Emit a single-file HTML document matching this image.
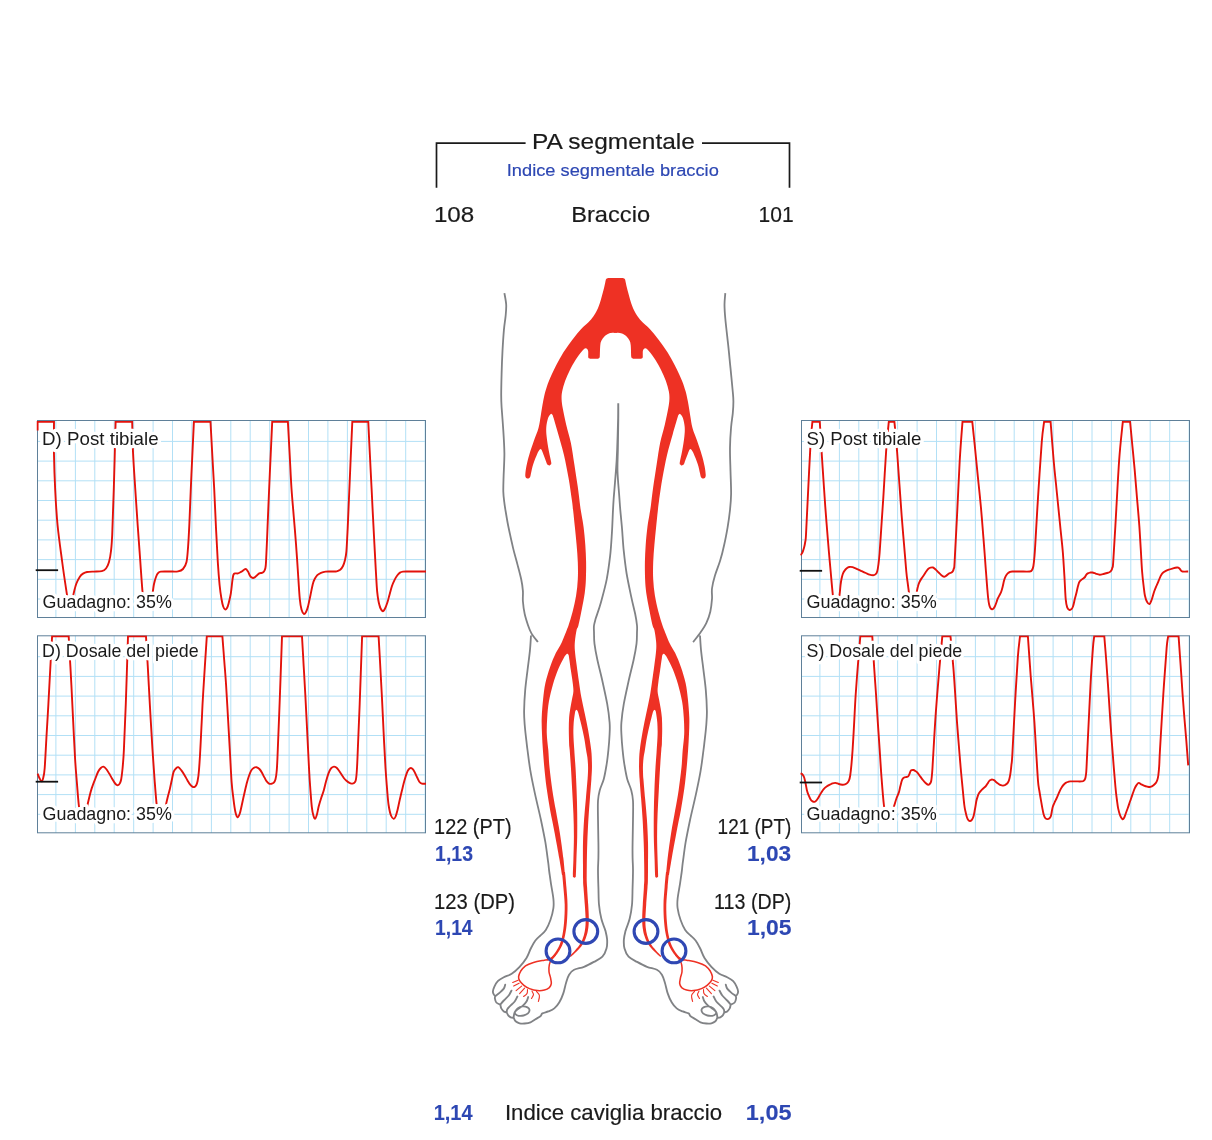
<!DOCTYPE html>
<html lang="it">
<head>
<meta charset="utf-8">
<title>PA segmentale</title>
<style>
html,body{margin:0;padding:0;background:#fff;}
body{width:1212px;height:1140px;overflow:hidden;font-family:"Liberation Sans", sans-serif;}
svg{display:block;}
svg text{font-family:"Liberation Sans", sans-serif;}
.halo{paint-order:stroke fill;stroke:#fff;stroke-width:6.4px;stroke-linejoin:round;}
</style>
</head>
<body>
<svg width="1212" height="1140" viewBox="0 0 1212 1140">
<rect width="1212" height="1140" fill="#fff"/>
<path d="M436.5 187.7V143.1H525.6M702 143.1H789.5V187.7" fill="none" stroke="#1a1a1a" stroke-width="1.7"/>
<text x="532.1" y="149.4" font-size="22.4" fill="#1a1a1a" stroke="#1a1a1a" stroke-width="0.18" textLength="162.8" lengthAdjust="spacingAndGlyphs">PA segmentale</text>
<text x="506.8" y="176" font-size="17.4" fill="#2d47b3" stroke="#2d47b3" stroke-width="0.18" textLength="212" lengthAdjust="spacingAndGlyphs">Indice segmentale braccio</text>
<text x="433.9" y="221.5" font-size="22.4" fill="#1a1a1a" stroke="#1a1a1a" stroke-width="0.18" textLength="40.3" lengthAdjust="spacingAndGlyphs">108</text>
<text x="571.2" y="221.5" font-size="22.4" fill="#1a1a1a" stroke="#1a1a1a" stroke-width="0.18" textLength="78.9" lengthAdjust="spacingAndGlyphs">Braccio</text>
<text x="758.6" y="221.5" font-size="22.4" fill="#1a1a1a" stroke="#1a1a1a" stroke-width="0.18" textLength="35.1" lengthAdjust="spacingAndGlyphs">101</text>
<g>
<clipPath id="cp1"><rect x="36.3" y="420" width="389.7" height="198"/></clipPath>
<rect x="37.5" y="420.5" width="388" height="197" fill="#fff"/>
<path d="M55.9 420.5V617.5M75.4 420.5V617.5M94.8 420.5V617.5M114.2 420.5V617.5M133.7 420.5V617.5M153.1 420.5V617.5M172.5 420.5V617.5M191.9 420.5V617.5M211.4 420.5V617.5M230.8 420.5V617.5M250.2 420.5V617.5M269.7 420.5V617.5M289.1 420.5V617.5M308.5 420.5V617.5M327.9 420.5V617.5M347.4 420.5V617.5M366.8 420.5V617.5M386.2 420.5V617.5M405.7 420.5V617.5M425.1 420.5V617.5M37.5 441.4H425.5M37.5 461.1H425.5M37.5 480.8H425.5M37.5 500.5H425.5M37.5 520.2H425.5M37.5 539.9H425.5M37.5 559.6H425.5M37.5 579.3H425.5M37.5 599H425.5" stroke="#b2e0f6" stroke-width="1" fill="none"/>
<rect x="37.5" y="420.5" width="388" height="197" fill="none" stroke="#5f8099" stroke-width="1"/>
<path d="M37.6 430.5L37.6 430.5L37.6 421.9L37.6 421.9L54 421.9L54 421.9C54 427.4 53.8 443.6 54 455C54.2 466.4 54.6 478.2 55.2 490C55.8 501.8 56.4 513.5 57.6 525.5C58.8 537.5 60.7 550.6 62.2 562C63.7 573.4 65.7 586.3 66.8 593.6C67.9 600.9 68.4 603.4 69 606C69.6 608.6 69.8 609.3 70.2 609C70.6 608.7 71 606.6 71.6 604C72.2 601.4 72.8 596.9 73.6 593.6C74.4 590.3 75.2 586.8 76.2 584C77.2 581.2 78.6 578.7 79.7 577C80.8 575.3 81.8 574.4 83 573.6C84.2 572.8 85.2 572.3 87 572C88.8 571.7 91.5 571.7 94 571.6C96.5 571.5 99.8 571.7 101.8 571.2C103.8 570.7 104.8 570 106 568.5C107.2 567 108.2 564.9 109 562C109.8 559.1 110.5 555.5 111 551C111.5 546.5 111.7 545.4 112.2 535C112.7 524.6 113.2 507.6 113.8 488.7C114.4 469.8 115.3 433 115.6 421.9L115.6 421.9L132.2 421.9L132.2 421.9C132.3 426.9 132.5 441 133 452C133.5 463 134.4 475.8 135.2 488C136 500.2 136.9 513.5 137.7 525.5C138.5 537.5 139.4 548.6 140.2 560C141 571.4 141.9 585.9 142.7 593.6C143.5 601.3 144.2 603.5 145 606C145.8 608.5 146.7 608.8 147.5 608.6C148.3 608.4 149.2 607.5 150 605C150.8 602.5 151.8 597.1 152.5 593.6C153.2 590.1 153.4 586.8 154 584C154.6 581.2 155.3 578.8 156 577C156.7 575.2 157.2 574.1 158 573.2C158.8 572.3 158.8 571.9 160.8 571.6C162.8 571.3 167.1 571.5 170 571.5C172.9 571.5 175.8 571.8 178 571.4C180.2 571 181.6 570.6 183 569C184.4 567.4 185.7 565.5 186.5 562C187.3 558.5 187.5 554.1 188 548C188.5 541.9 188.7 537.7 189.3 525.5C189.9 513.3 190.6 492.3 191.4 475C192.2 457.7 193.5 430.8 193.9 421.9L193.9 421.9L210.5 421.9L210.5 421.9C210.8 427.4 211.7 443.9 212.3 455C212.9 466.1 213.6 476.5 214.2 488.7C214.8 500.9 215.4 515.8 216 528C216.6 540.2 217.2 552.5 217.8 562C218.4 571.5 219 578.8 219.6 585C220.2 591.2 220.9 595.4 221.5 599C222.1 602.6 222.6 604.8 223.2 606.5C223.8 608.2 224.6 609.2 225.2 609.5C225.8 609.8 226.4 609 227 608C227.6 607 228 605.9 228.6 603.5C229.2 601.1 230.2 597.2 230.8 593.6C231.4 590 231.8 585.2 232.2 582C232.6 578.8 233 576 233.5 574.6C234 573.2 234.4 573.6 235.2 573.4C235.9 573.2 236.9 573.7 238 573.4C239.1 573.1 240.2 572.3 241.5 571.6C242.8 570.9 244.4 569 245.5 569C246.6 569 247.3 570.5 248 571.5C248.7 572.5 249.1 574.1 249.6 575C250.1 575.9 250.4 576.5 251 577C251.6 577.5 252.4 577.9 253 578C253.6 578.1 254.1 577.8 254.7 577.4C255.3 577 256 576.2 256.8 575.5C257.6 574.8 258.4 573.9 259.3 573.4C260.2 572.9 261.2 573.1 262 572.8C262.8 572.5 263.4 572.3 264 571.5C264.6 570.7 265.1 569.5 265.4 568C265.7 566.5 265.8 566.1 266 562.3C266.2 558.5 266.5 551.1 266.8 545C267.1 538.9 267.1 537.3 267.6 525.5C268.1 513.7 269 491.3 269.8 474C270.6 456.7 271.8 430.6 272.2 421.9L272.2 421.9L287.9 421.9L287.9 421.9C288.2 427.4 289.1 443.9 289.7 455C290.3 466.1 290.8 478.4 291.5 488.7C292.2 499 293.1 507.8 293.8 517C294.6 526.2 295.3 534.7 296 544C296.7 553.3 297.4 563.8 298 573C298.6 582.2 299.2 592.9 299.8 599C300.4 605.1 300.8 607 301.5 609.5C302.2 612 303.1 613.6 303.9 614C304.6 614.4 305.3 613.2 306 612C306.7 610.8 307.3 609.2 308 606.5C308.7 603.8 309.6 599.2 310.4 595.5C311.2 591.8 312 587.2 312.7 584.4C313.4 581.6 314 580.3 314.8 578.8C315.6 577.3 316.3 576.2 317.3 575.2C318.3 574.2 319.6 573.4 321 572.8C322.4 572.2 323.9 571.8 325.6 571.6C327.3 571.4 329.1 571.5 331 571.5C332.9 571.5 335.2 571.7 336.7 571.4C338.2 571.1 339.1 570.7 340.2 569.8C341.2 568.9 342.2 567.6 343 566C343.8 564.4 344.4 562.5 345 560C345.6 557.5 346 556 346.4 551.3C346.8 546.6 347.1 539.4 347.5 532C347.9 524.6 348.1 518.2 348.6 507C349.1 495.8 349.8 479.2 350.4 465C351 450.8 352 429.1 352.3 421.9L352.3 421.9L368.3 421.9L368.3 421.9C368.6 427.4 369.3 443.9 369.9 455C370.4 466.1 371.1 478.4 371.6 488.7C372.1 499 372.5 507.8 373 517C373.5 526.2 373.9 535.2 374.4 544C374.9 552.8 375.3 562 375.8 570C376.3 578 376.6 586 377.2 591.8C377.8 597.6 378.5 601.8 379.4 605C380.2 608.2 381.4 610.3 382.3 611C383.2 611.7 384 610.4 384.8 609C385.6 607.6 386.5 605.2 387.3 602.8C388.1 600.4 388.8 597.2 389.6 594.5C390.4 591.8 391.1 588.8 391.9 586.3C392.7 583.8 393.7 581.6 394.6 579.8C395.5 577.9 396.5 576.4 397.4 575.2C398.3 574 399.1 573.2 400 572.6C400.9 572 401.3 571.8 403 571.6C404.7 571.4 406 571.5 410 571.5C414 571.5 424.2 571.5 427 571.5" stroke="#e3120b" stroke-width="1.9" fill="none" stroke-linejoin="miter" clip-path="url(#cp1)"/>
<path d="M35.7 570.2H58.1" stroke="#111" stroke-width="1.8"/>
<text x="42.1" y="444.6" font-size="17.7" textLength="116.5" lengthAdjust="spacingAndGlyphs" fill="#1a1a1a" class="halo">D) Post tibiale</text>
<text x="42.6" y="608.4" font-size="17.7" textLength="129.2" lengthAdjust="spacingAndGlyphs" fill="#1a1a1a" class="halo">Guadagno: 35%</text>
</g>
<g>
<clipPath id="cp2"><rect x="36.3" y="635.3" width="389.7" height="198"/></clipPath>
<rect x="37.5" y="635.8" width="388" height="197" fill="#fff"/>
<path d="M55.9 635.8V832.8M75.4 635.8V832.8M94.8 635.8V832.8M114.2 635.8V832.8M133.7 635.8V832.8M153.1 635.8V832.8M172.5 635.8V832.8M191.9 635.8V832.8M211.4 635.8V832.8M230.8 635.8V832.8M250.2 635.8V832.8M269.7 635.8V832.8M289.1 635.8V832.8M308.5 635.8V832.8M327.9 635.8V832.8M347.4 635.8V832.8M366.8 635.8V832.8M386.2 635.8V832.8M405.7 635.8V832.8M425.1 635.8V832.8M37.5 656.7H425.5M37.5 676.4H425.5M37.5 696.1H425.5M37.5 715.8H425.5M37.5 735.5H425.5M37.5 755.2H425.5M37.5 774.9H425.5M37.5 794.6H425.5M37.5 814.3H425.5" stroke="#b2e0f6" stroke-width="1" fill="none"/>
<rect x="37.5" y="635.8" width="388" height="197" fill="none" stroke="#5f8099" stroke-width="1"/>
<path d="M37.6 773.6C37.9 774.3 38.8 776.7 39.4 778C40 779.3 40.8 781.4 41.4 781.4C42 781.4 42.7 780.2 43.2 778C43.8 775.8 44.2 774.7 44.7 768C45.2 761.3 45.8 748.7 46.4 738C47 727.3 47.8 715 48.4 703.7C49 692.4 49.6 681.2 50.2 670C50.8 658.8 51.8 642 52.1 636.4L52.1 636.4L68.7 636.4L68.7 636.4C68.9 640.3 69.5 651.9 70 660C70.5 668.1 70.9 674.9 71.4 685.2C71.9 695.5 72.6 709.7 73.2 722C73.8 734.3 74.5 748.7 75.1 759C75.7 769.3 76.4 776.3 77 784C77.6 791.7 78.2 799.7 78.8 805C79.4 810.3 79.9 813.5 80.6 816C81.3 818.5 82 820.2 82.8 820C83.6 819.8 84.4 817.5 85.2 815C86 812.5 86.8 808.2 87.5 805C88.2 801.8 88.9 798.8 89.6 796C90.3 793.2 90.8 791.1 91.7 788.4C92.6 785.6 93.9 782.3 95 779.5C96.1 776.7 97.1 773.7 98.1 771.8C99.1 769.9 99.9 768.9 100.8 768C101.7 767.1 102.4 766.4 103.3 766.6C104.2 766.8 105.2 767.8 106.2 769C107.2 770.2 108.2 772 109.2 773.6C110.2 775.2 111.1 777 112 778.5C112.9 780 114 781.9 114.7 782.9C115.4 783.9 115.9 784.4 116.4 784.8C117 785.2 117.4 785.4 118 785.2C118.6 785 119.3 784.4 119.8 783.4C120.3 782.4 120.7 781.8 121.2 779.2C121.7 776.6 122.1 772.9 122.6 768C123 763.1 123.4 760.4 123.9 749.7C124.4 739 125.1 722.6 125.8 703.7C126.5 684.8 127.6 647.6 128 636.4L128 636.4L146 636.4L146 636.4C146.2 640.3 146.9 651.9 147.4 660C147.9 668.1 148.3 675.5 148.8 685.2C149.3 694.9 150 707.2 150.6 718C151.2 728.8 151.8 739.4 152.5 749.7C153.2 760 153.9 770.8 154.6 780C155.3 789.2 156 798.8 156.7 805C157.4 811.2 158.1 814.3 158.8 817C159.6 819.7 160.4 821.3 161.2 821C162 820.7 162.8 817.7 163.6 815C164.4 812.3 165.2 808.2 165.9 805C166.6 801.8 167.3 798.8 168 796C168.7 793.2 169.4 791.1 170 788.4C170.6 785.7 171.2 782.8 171.8 780C172.4 777.2 172.9 773.7 173.6 771.8C174.3 769.9 175.2 769.2 176 768.4C176.8 767.6 177.4 766.9 178.3 767.2C179.2 767.5 180.3 769 181.4 770.4C182.5 771.8 183.7 773.8 184.7 775.5C185.7 777.2 186.6 778.9 187.5 780.4C188.4 781.9 189.4 783.7 190.2 784.7C191 785.7 191.6 786.2 192.3 786.6C193 787 193.7 787.2 194.3 787C195 786.8 195.6 786.2 196.2 785.2C196.8 784.2 197.1 783.5 197.6 781C198.1 778.5 198.6 775.2 199 770C199.4 764.8 199.9 757.7 200.3 749.7C200.8 741.7 201.2 731.2 201.7 722C202.2 712.8 202.2 708.8 203.1 694.5C203.9 680.2 206.2 646.1 206.8 636.4L206.8 636.4L222.4 636.4L222.4 636.4C222.7 640.3 223.6 651.9 224.2 660C224.8 668.1 225.5 675.5 226.1 685.2C226.7 694.9 227.4 707.2 228 718C228.6 728.8 229.2 739 229.8 749.7C230.4 760.4 231 773.7 231.6 782C232.2 790.3 232.9 794.4 233.5 799.4C234.1 804.4 234.7 809 235.4 812C236.1 815 236.9 817 237.6 817.3C238.3 817.5 239.1 815.5 239.8 813.5C240.5 811.5 241.1 808.1 241.8 805C242.5 801.9 243.2 798.4 244 795C244.8 791.6 245.6 787.7 246.4 784.7C247.2 781.7 247.8 779.3 248.6 777C249.4 774.7 250.2 772.4 251 770.9C251.8 769.4 252.7 768.6 253.6 768C254.5 767.4 255.5 767 256.5 767.2C257.5 767.4 258.5 768.1 259.4 769C260.3 769.9 261.2 771.3 262 772.7C262.8 774.1 263.6 776 264.4 777.4C265.2 778.8 265.9 780.4 266.7 781.4C267.5 782.4 268.2 783.2 269 783.6C269.8 784 270.5 784 271.3 783.8C272.1 783.6 273.1 783.4 273.8 782.6C274.5 781.8 275 781 275.5 779.2C276 777.4 276.3 775.4 276.6 772C276.9 768.6 276.9 770.4 277.4 759C277.9 747.6 278.8 724.1 279.6 703.7C280.4 683.3 281.6 647.6 282 636.4L282 636.4L302 636.4L302 636.4C302.3 641.2 303.1 655.3 303.6 665C304.2 674.7 304.7 683.3 305.3 694.5C305.9 705.7 306.6 719.8 307.2 732C307.8 744.2 308.5 758.3 309 768C309.5 777.7 309.9 783.5 310.4 790C310.9 796.5 311.3 802.5 311.8 806.8C312.3 811 312.8 813.5 313.4 815.5C313.9 817.5 314.5 818.9 315.1 818.8C315.7 818.7 316.2 817 316.8 815C317.4 813 317.9 809.6 318.6 806.8C319.3 804 320.3 800.8 321.2 798C322.1 795.2 323 793 323.8 790.2C324.6 787.5 325.2 784.3 326 781.5C326.8 778.7 327.6 775.8 328.4 773.6C329.2 771.4 330.1 769.6 331 768.4C331.9 767.2 333 766.7 333.9 766.6C334.8 766.5 335.5 767 336.3 767.6C337.1 768.2 337.7 768.9 338.5 770C339.3 771.1 340.3 772.6 341.2 774C342.1 775.4 343.1 777.1 344 778.3C344.9 779.5 345.9 780.2 346.8 781C347.7 781.8 348.7 782.5 349.5 782.9C350.3 783.3 350.8 783.5 351.4 783.6C352 783.7 352.6 783.6 353.2 783.4C353.8 783.2 354.3 782.9 354.8 782.2C355.3 781.5 355.6 781.6 356 779.2C356.4 776.8 356.7 772.9 357 768C357.3 763.1 357.4 760.4 357.8 749.7C358.2 739 359 722.6 359.7 703.7C360.4 684.8 361.7 647.6 362.1 636.4L362.1 636.4L378.6 636.4L378.6 636.4C378.9 641.2 379.7 655.3 380.2 665C380.7 674.7 381.2 683.3 381.8 694.5C382.4 705.7 383 719.8 383.6 732C384.2 744.2 384.9 758.7 385.5 768C386.1 777.3 386.5 781.8 387 788C387.5 794.2 387.9 800.4 388.6 805C389.3 809.6 390.1 813.2 391 815.5C391.9 817.8 392.9 818.6 393.7 818.8C394.5 819 395 817.9 395.6 816.5C396.2 815.1 396.7 813.2 397.4 810.5C398.1 807.8 398.9 803.4 399.7 800C400.5 796.6 401.2 793.4 402 790.2C402.8 787 403.5 783.8 404.3 781C405.1 778.2 405.9 775.5 406.6 773.6C407.3 771.7 408 770.3 408.7 769.4C409.4 768.5 410.2 768 410.9 768C411.6 768 412.3 768.6 413 769.4C413.7 770.2 414.2 771.4 414.9 772.7C415.6 774.1 416.4 776 417.2 777.5C418 779 418.7 781 419.5 782C420.3 783 420.7 783.3 421.8 783.6C422.9 783.9 425.3 783.8 426 783.8" stroke="#e3120b" stroke-width="1.9" fill="none" stroke-linejoin="miter" clip-path="url(#cp2)"/>
<path d="M35.7 781.7H58.1" stroke="#111" stroke-width="1.8"/>
<text x="42.1" y="656.7" font-size="17.7" textLength="156.6" lengthAdjust="spacingAndGlyphs" fill="#1a1a1a" class="halo">D) Dosale del piede</text>
<text x="42.6" y="819.7" font-size="17.7" textLength="129.2" lengthAdjust="spacingAndGlyphs" fill="#1a1a1a" class="halo">Guadagno: 35%</text>
</g>
<g>
<clipPath id="cp3"><rect x="800.3" y="420" width="389.7" height="198"/></clipPath>
<rect x="801.5" y="420.5" width="388" height="197" fill="#fff"/>
<path d="M819.9 420.5V617.5M839.4 420.5V617.5M858.8 420.5V617.5M878.2 420.5V617.5M897.6 420.5V617.5M917.1 420.5V617.5M936.5 420.5V617.5M955.9 420.5V617.5M975.4 420.5V617.5M994.8 420.5V617.5M1014.2 420.5V617.5M1033.7 420.5V617.5M1053.1 420.5V617.5M1072.5 420.5V617.5M1092 420.5V617.5M1111.4 420.5V617.5M1130.8 420.5V617.5M1150.2 420.5V617.5M1169.7 420.5V617.5M1189.1 420.5V617.5M801.5 441.4H1189.5M801.5 461.1H1189.5M801.5 480.8H1189.5M801.5 500.5H1189.5M801.5 520.2H1189.5M801.5 539.9H1189.5M801.5 559.6H1189.5M801.5 579.3H1189.5M801.5 599H1189.5" stroke="#b2e0f6" stroke-width="1" fill="none"/>
<rect x="801.5" y="420.5" width="388" height="197" fill="none" stroke="#5f8099" stroke-width="1"/>
<path d="M800.4 555.3C800.7 554.8 801.8 553.9 802.4 552.6C803 551.3 803.6 549.4 804.1 547.6C804.6 545.8 804.9 544.1 805.2 542C805.5 539.9 805.6 542.1 806 534.7C806.4 527.4 807 513.2 807.8 497.9C808.6 482.5 809.8 455.3 810.6 442.6C811.4 429.9 812.1 425.3 812.4 421.9L812.4 421.9L819.8 421.9L819.8 421.9C820.1 426.9 821 442.3 821.6 451.8C822.2 461.3 822.8 469.8 823.4 479C824 488.2 824.7 498.5 825.3 507C825.9 515.5 826.5 522.3 827.1 530C827.7 537.7 828.4 545.8 829 553C829.6 560.2 830.2 566.2 830.8 573C831.4 579.8 832.1 588.2 832.7 593.6C833.3 599 833.9 603 834.5 605.5C835.1 608 835.7 608.7 836.3 608.5C836.9 608.3 837.4 607 838 604.5C838.6 602 839.3 596.8 839.7 593.6C840.1 590.4 840.2 587.9 840.5 585.5C840.8 583.1 841.1 580.9 841.5 579C841.9 577.1 842.3 575.4 842.8 574C843.3 572.6 843.9 571.6 844.6 570.6C845.3 569.6 846 568.8 846.8 568.2C847.6 567.6 848.2 567.2 849.2 567C850.2 566.8 851.4 566.9 852.6 567.2C853.8 567.5 855.2 568.2 856.6 568.8C858 569.4 859.5 570.1 861 570.8C862.5 571.5 864.4 572.4 865.8 573C867.2 573.6 868.4 574.2 869.6 574.6C870.8 575 872.2 575.2 873.2 575.2C874.2 575.2 874.7 575 875.4 574.4C876.1 573.8 876.7 573.2 877.2 571.5C877.7 569.8 878.1 567.1 878.5 564C878.9 560.9 879.1 559.3 879.6 553C880.1 546.7 880.8 535.2 881.4 526C882 516.8 882.5 510.3 883.3 497.9C884.1 485.5 885.2 464.5 886.1 451.8C887 439.1 888.3 426.9 888.8 421.9L888.8 421.9L894.4 421.9L894.4 421.9C894.9 426.9 896.3 441.4 897.1 451.8C897.9 462.2 898.6 473.2 899.4 484C900.2 494.8 900.9 506.3 901.7 516.3C902.5 526.3 903.2 534.8 904 544C904.8 553.2 905.7 565 906.3 571.5C906.9 578 907.2 579.3 907.7 583C908.2 586.7 908.6 589.9 909.1 593.6C909.6 597.4 910.4 603 911 605.5C911.6 608 912.2 608.7 912.8 608.5C913.4 608.3 914.2 607 914.8 604.5C915.4 602 916 596.5 916.5 593.6C917 590.7 917.3 588.8 917.8 587C918.2 585.2 918.6 584 919.2 582.6C919.8 581.2 920.6 579.8 921.4 578.6C922.2 577.4 923 576.3 923.8 575.2C924.6 574.1 925.2 572.9 926 571.8C926.8 570.7 927.6 569.5 928.4 568.8C929.2 568.1 929.8 567.8 930.6 567.6C931.4 567.4 932.1 567.2 933 567.5C933.9 567.8 934.9 568.8 935.8 569.6C936.7 570.4 937.7 571.6 938.6 572.5C939.5 573.4 940.5 574.5 941.4 575.2C942.3 575.9 943.3 576.6 944.1 576.7C944.9 576.8 945.6 576.1 946.4 575.6C947.2 575.1 948 574.2 948.7 573.7C949.4 573.2 950.1 573.2 950.8 572.8C951.5 572.4 952.2 572.2 952.7 571.5C953.2 570.8 953.5 570 953.8 568.5C954.1 567 954.1 571 954.6 562.3C955.1 553.6 956.1 533.2 957 516.3C957.9 499.4 958.8 476.7 959.7 461C960.6 445.3 962 428.4 962.5 421.9L962.5 421.9L972.3 421.9L972.3 421.9C972.6 425.1 973.6 434.5 974.3 441C975 447.5 975.6 453.8 976.3 461C977 468.2 977.8 476.3 978.6 484C979.4 491.7 980.2 499.3 980.9 507C981.6 514.7 982.2 522.3 982.8 530C983.4 537.7 984.1 546 984.6 553C985.1 560 985.5 565.8 986 572C986.5 578.2 987 585.6 987.4 590C987.8 594.4 987.9 596 988.2 598.5C988.5 601 988.8 603.1 989.2 604.7C989.6 606.3 989.9 607.2 990.4 608C990.9 608.8 991.5 609.2 992 609.3C992.5 609.4 992.9 609.1 993.4 608.6C993.9 608.1 994.3 607.4 994.8 606.5C995.3 605.6 995.8 604.2 996.2 603C996.7 601.8 997 600.5 997.5 599.2C998 597.9 998.8 596.6 999.4 595.4C1000 594.2 1000.7 593.2 1001.2 591.8C1001.7 590.4 1002.1 588.9 1002.6 587C1003.1 585.1 1003.5 582.5 1004 580.7C1004.5 578.9 1005 577.6 1005.6 576.4C1006.2 575.2 1007 574.1 1007.7 573.4C1008.4 572.7 1009 572.3 1009.8 572C1010.6 571.7 1010.6 571.6 1012.3 571.5C1014 571.4 1017.1 571.5 1020 571.5C1022.9 571.5 1027.8 571.8 1029.8 571.5C1031.8 571.2 1031.4 570.9 1032 570C1032.6 569.1 1033 568.2 1033.4 566C1033.8 563.8 1034.1 560.7 1034.4 557C1034.7 553.3 1034.7 553.9 1035.3 544C1035.9 534.1 1036.9 514.8 1038 497.9C1039.1 481 1040.7 455.3 1041.7 442.6C1042.7 429.9 1043.7 425.3 1044.1 421.9L1044.1 421.9L1050.6 421.9L1050.6 421.9C1051.1 428.4 1052.8 450.6 1053.7 461C1054.6 471.4 1055.2 476.3 1056 484C1056.8 491.7 1057.5 499.3 1058.3 507C1059.1 514.7 1059.8 522.3 1060.6 530C1061.4 537.7 1062.3 545.3 1062.9 553C1063.5 560.7 1063.9 568.3 1064.4 576C1064.9 583.7 1065.2 594 1065.7 599.2C1066.2 604.4 1066.6 605.6 1067.2 607.4C1067.8 609.2 1068.6 609.5 1069.3 609.8C1070 610.1 1070.8 609.8 1071.4 609.2C1072 608.7 1072.4 608.2 1073 606.5C1073.6 604.8 1074.2 601.5 1074.8 599C1075.4 596.5 1076.2 594 1076.7 591.8C1077.2 589.6 1077.5 587.7 1078 586C1078.5 584.3 1078.8 582.8 1079.5 581.7C1080.2 580.6 1081.1 580.2 1082 579.4C1082.9 578.6 1084.3 577.8 1085 577C1085.7 576.2 1085.7 575.4 1086.2 574.8C1086.7 574.2 1087.2 573.8 1087.8 573.4C1088.4 573 1089.2 572.8 1090 572.6C1090.8 572.5 1091.4 572.3 1092.4 572.5C1093.4 572.7 1094.8 573.4 1096 573.8C1097.2 574.2 1098.5 574.7 1099.7 574.7C1101 574.7 1102.3 574.3 1103.5 574C1104.7 573.7 1106.1 573.3 1107.1 573C1108.1 572.7 1108.8 572.6 1109.5 572.2C1110.2 571.8 1110.8 571.4 1111.3 570.6C1111.8 569.8 1112.1 568.9 1112.4 567.5C1112.7 566.1 1112.7 569.3 1113.2 562.3C1113.7 555.3 1114.4 542.4 1115.4 525.5C1116.4 508.6 1117.9 478.3 1119.1 461C1120.3 443.7 1122.2 428.4 1122.8 421.9L1122.8 421.9L1130.1 421.9L1130.1 421.9C1130.5 425.9 1131.6 437.9 1132.4 446C1133.2 454.1 1133.9 461.5 1134.7 470.2C1135.5 478.9 1136.2 488.8 1137 498C1137.8 507.2 1138.7 517.2 1139.3 525.5C1139.9 533.8 1140.2 540.3 1140.7 548C1141.2 555.7 1141.6 565.3 1142.1 571.5C1142.6 577.7 1143 581 1143.5 585C1144 589 1144.3 592.7 1144.9 595.5C1145.5 598.3 1146.2 600.4 1147 601.8C1147.8 603.2 1148.7 604.4 1149.5 604.1C1150.3 603.8 1150.8 602 1151.6 600C1152.4 598 1153.3 594.1 1154.1 591.8C1154.9 589.5 1155.6 587.9 1156.4 586C1157.2 584.1 1158 582.3 1158.7 580.7C1159.4 579.1 1159.8 577.8 1160.4 576.6C1161 575.4 1161.5 574.3 1162.3 573.4C1163.1 572.5 1164.3 571.8 1165.4 571.2C1166.5 570.6 1167.5 570.2 1168.8 569.7C1170.1 569.2 1171.6 568.8 1173 568.4C1174.4 568 1176.2 567.6 1177.1 567.5C1178 567.4 1178.1 567.6 1178.6 567.8C1179 568 1179.4 568.3 1179.8 568.8C1180.2 569.3 1180.5 570.1 1181 570.6C1181.5 571.1 1181.9 571.3 1182.6 571.5C1183.3 571.7 1184.1 571.6 1185 571.6C1185.9 571.6 1187.7 571.5 1188.2 571.5" stroke="#e3120b" stroke-width="1.9" fill="none" stroke-linejoin="miter" clip-path="url(#cp3)"/>
<path d="M799.7 570.8H822.1" stroke="#111" stroke-width="1.8"/>
<text x="806.5" y="444.5" font-size="17.7" textLength="114.8" lengthAdjust="spacingAndGlyphs" fill="#1a1a1a" class="halo">S) Post tibiale</text>
<text x="806.5" y="608.4" font-size="17.7" textLength="130.2" lengthAdjust="spacingAndGlyphs" fill="#1a1a1a" class="halo">Guadagno: 35%</text>
</g>
<g>
<clipPath id="cp4"><rect x="800.3" y="635.3" width="389.7" height="198"/></clipPath>
<rect x="801.5" y="635.8" width="388" height="197" fill="#fff"/>
<path d="M819.9 635.8V832.8M839.4 635.8V832.8M858.8 635.8V832.8M878.2 635.8V832.8M897.6 635.8V832.8M917.1 635.8V832.8M936.5 635.8V832.8M955.9 635.8V832.8M975.4 635.8V832.8M994.8 635.8V832.8M1014.2 635.8V832.8M1033.7 635.8V832.8M1053.1 635.8V832.8M1072.5 635.8V832.8M1092 635.8V832.8M1111.4 635.8V832.8M1130.8 635.8V832.8M1150.2 635.8V832.8M1169.7 635.8V832.8M1189.1 635.8V832.8M801.5 656.7H1189.5M801.5 676.4H1189.5M801.5 696.1H1189.5M801.5 715.8H1189.5M801.5 735.5H1189.5M801.5 755.2H1189.5M801.5 774.9H1189.5M801.5 794.6H1189.5M801.5 814.3H1189.5" stroke="#b2e0f6" stroke-width="1" fill="none"/>
<rect x="801.5" y="635.8" width="388" height="197" fill="none" stroke="#5f8099" stroke-width="1"/>
<path d="M800.4 773.3C800.7 773.5 801.8 773.7 802.4 774.4C803 775.1 803.6 775.9 804.1 777.3C804.6 778.7 805 780.9 805.5 783C806 785.1 806.4 788.1 806.9 790.2C807.4 792.3 808.1 793.9 808.7 795.4C809.3 796.9 810 798.4 810.6 799.4C811.2 800.4 811.9 801 812.6 801.4C813.3 801.8 813.9 802 814.6 801.8C815.3 801.6 816.1 800.9 816.8 800C817.5 799.1 818.2 797.9 818.9 796.7C819.6 795.5 820.4 794 821.2 792.8C822 791.6 822.6 790.3 823.5 789.3C824.4 788.3 825.5 787.4 826.6 786.6C827.7 785.8 828.9 785.2 829.9 784.7C830.9 784.2 831.7 783.7 832.6 783.4C833.5 783.1 834.4 782.8 835.4 782.9C836.4 783 837.6 783.7 838.8 784C839.9 784.3 841.3 784.6 842.3 784.7C843.3 784.8 844.1 784.7 845 784.4C845.9 784.1 846.7 783.6 847.4 782.9C848.1 782.2 848.5 781.6 849 780.4C849.5 779.2 849.8 778.1 850.2 775.5C850.6 772.9 851 769.3 851.4 765C851.8 760.7 852.1 756.9 852.6 749.7C853.1 742.5 853.7 731.2 854.2 722C854.7 712.8 855 705.2 855.7 694.5C856.4 683.8 857.7 667.3 858.5 657.6C859.3 647.9 860 639.9 860.3 636.4L860.3 636.4L872.3 636.4L872.3 636.4C872.6 641.5 873.5 657.2 874.1 666.8C874.7 676.4 875.4 684.8 876 694C876.6 703.2 877.2 712.8 877.8 722.1C878.4 731.4 879.1 740.8 879.7 750C880.3 759.2 880.8 768.1 881.5 777.3C882.2 786.5 883.1 798.5 883.9 805C884.6 811.5 885.2 813.6 886 816C886.8 818.4 887.7 819.6 888.6 819.5C889.5 819.4 890.4 817.9 891.4 815.5C892.4 813.1 893.5 807.9 894.4 805C895.3 802.1 895.8 800.2 896.6 798C897.4 795.8 898.4 794 899 792C899.6 790 899.9 787.8 900.4 786C900.9 784.2 901.3 782.3 901.7 781C902.1 779.7 902.5 779 903 778.4C903.5 777.8 903.9 777.5 904.5 777.3C905.1 777.1 905.8 777.1 906.4 777C907 776.9 907.7 776.9 908.2 776.4C908.7 775.9 909 775 909.4 774.2C909.8 773.4 910 772.1 910.4 771.4C910.8 770.7 911.2 770.4 911.7 770.2C912.2 770 912.7 769.9 913.3 770C913.9 770.1 914.6 770.5 915.3 771C916 771.5 916.6 771.8 917.4 772.7C918.2 773.6 919.3 775.2 920.2 776.4C921.1 777.6 922 778.9 922.9 780C923.8 781.1 924.7 782.2 925.6 783C926.5 783.8 927.4 784.6 928.1 784.7C928.8 784.8 929.3 784.4 929.8 783.8C930.3 783.2 930.8 783 931.2 781C931.6 779 931.9 775.7 932.2 772C932.5 768.3 932.4 768.9 933 759C933.6 749.1 934.7 728.3 935.8 712.9C936.9 697.5 938.4 679.5 939.5 666.8C940.6 654 941.8 641.5 942.3 636.4L942.3 636.4L950.5 636.4L950.5 636.4C951 641.5 952.5 657.2 953.3 666.8C954.1 676.4 954.6 684.8 955.2 694C955.8 703.2 956.4 713.6 957 722.1C957.6 730.6 958.2 737.4 958.8 745C959.4 752.6 960.1 761 960.7 768C961.3 775 961.9 780.8 962.5 787C963.1 793.2 963.8 800.8 964.3 805C964.8 809.2 965.1 809.9 965.6 812C966.1 814.1 966.6 816.4 967.1 817.8C967.6 819.2 968.1 819.9 968.6 820.4C969.1 820.9 969.6 821.1 970.2 821C970.8 820.9 971.4 820.4 972 819.6C972.6 818.8 973.1 817.8 973.6 816C974.1 814.2 974.5 811.5 975 809C975.5 806.5 975.9 803.4 976.3 801.3C976.7 799.2 977.1 798 977.6 796.6C978.1 795.2 978.3 794.2 979.1 793C979.9 791.8 981.1 790.5 982.2 789.4C983.3 788.3 984.6 787.4 985.5 786.5C986.4 785.6 986.8 784.7 987.4 783.8C988 782.9 988.6 781.7 989.2 781C989.8 780.3 990.2 780 990.8 779.8C991.3 779.6 991.9 779.5 992.5 779.6C993.1 779.7 993.8 780 994.4 780.4C995 780.8 995.3 781.4 996 782C996.7 782.6 997.6 783.3 998.4 783.8C999.2 784.3 1000 784.9 1000.8 785.2C1001.6 785.5 1002.2 785.7 1003 785.6C1003.8 785.5 1004.6 785.2 1005.4 784.8C1006.2 784.3 1007.1 783.8 1007.7 782.9C1008.3 782 1008.8 781 1009.2 779.5C1009.7 778 1010 776 1010.4 773.6C1010.8 771.2 1011.1 768.1 1011.4 765C1011.7 761.9 1011.7 765.4 1012.3 755.2C1012.9 745 1014.1 720 1015 703.7C1015.9 687.4 1017 668.8 1017.8 657.6C1018.6 646.4 1019.6 639.9 1020 636.4L1020 636.4L1027.9 636.4L1027.9 636.4C1028.4 643 1029.9 665.6 1030.7 676C1031.5 686.4 1032 691.3 1032.6 699C1033.2 706.7 1033.8 713.3 1034.4 722.1C1035 730.9 1035.6 742.2 1036.2 752C1036.8 761.8 1037.5 774.5 1038 781C1038.5 787.5 1038.9 787.9 1039.4 791C1039.9 794.1 1040.3 796.7 1040.8 799.4C1041.3 802.1 1041.7 804.9 1042.2 807.4C1042.7 809.9 1043.1 812.4 1043.6 814.2C1044.1 816 1044.6 817.2 1045.2 818C1045.8 818.8 1046.5 819 1047.2 819.1C1047.9 819.2 1048.6 819.1 1049.2 818.6C1049.8 818.1 1050.5 817.2 1050.9 816C1051.3 814.8 1051.5 813 1051.8 811.5C1052.1 810 1052.3 808.3 1052.8 806.8C1053.3 805.3 1054 803.9 1054.6 802.5C1055.2 801.1 1055.8 800 1056.5 798.5C1057.2 797 1058 794.9 1058.8 793.2C1059.6 791.5 1060.3 789.8 1061.1 788.4C1061.9 787 1062.6 785.9 1063.4 785C1064.2 784.1 1064.9 783.4 1065.7 782.9C1066.5 782.4 1067.2 782 1068 781.8C1068.8 781.5 1069 781.5 1070.3 781.4C1071.6 781.3 1074.2 781.4 1076 781.4C1077.8 781.4 1080.1 781.5 1081.3 781.4C1082.5 781.3 1082.8 781.4 1083.4 781C1084 780.6 1084.6 780.2 1085 779.2C1085.4 778.2 1085.7 776.9 1085.9 775C1086.2 773.1 1086.2 773.8 1086.5 768C1086.8 762.2 1087.1 754.3 1087.8 740.5C1088.5 726.7 1089.7 700.6 1090.5 685.2C1091.3 669.9 1092.3 656.5 1092.9 648.4C1093.5 640.3 1094 638.4 1094.2 636.4L1094.2 636.4L1104.3 636.4L1104.3 636.4C1104.6 640.3 1105.6 651.9 1106.2 660C1106.8 668.1 1107.4 676.4 1108 685.2C1108.6 694 1109.2 703.8 1109.8 713C1110.4 722.2 1111.1 731.8 1111.7 740.5C1112.3 749.2 1113 757.3 1113.6 765C1114.2 772.7 1114.9 780.8 1115.4 786.5C1115.9 792.2 1116.3 795.3 1116.8 799C1117.3 802.7 1117.6 805.8 1118.2 808.6C1118.8 811.4 1119.5 813.9 1120.2 815.6C1120.9 817.4 1121.8 818.7 1122.4 819.1C1123 819.5 1123.5 818.8 1124 818C1124.5 817.2 1124.9 815.9 1125.5 814.2C1126.1 812.5 1127 810.1 1127.8 808C1128.6 805.9 1129.3 803.5 1130.1 801.3C1130.9 799.1 1131.6 796.8 1132.4 794.6C1133.2 792.5 1134 790 1134.7 788.4C1135.4 786.8 1136 785.7 1136.7 784.8C1137.4 783.9 1138 783 1138.8 782.9C1139.6 782.8 1140.4 783.9 1141.3 784.4C1142.2 784.9 1142.9 785.2 1143.9 785.6C1144.9 786 1146.1 786.4 1147.2 786.6C1148.3 786.8 1149.4 787.1 1150.4 786.9C1151.4 786.7 1152.3 786.3 1153.2 785.6C1154.1 784.9 1155.2 783.8 1155.9 782.9C1156.6 782 1156.9 781.2 1157.3 780C1157.7 778.8 1158 777.8 1158.3 775.5C1158.6 773.2 1158.9 770.3 1159.2 766C1159.5 761.7 1159.3 761.6 1160 749.7C1160.7 737.8 1162.2 711.4 1163.3 694.5C1164.4 677.6 1165.8 658.1 1166.6 648.4C1167.4 638.7 1167.9 638.4 1168.2 636.4L1168.2 636.4L1178.6 636.4L1178.6 636.4C1178.9 641.2 1179.9 655.3 1180.6 665C1181.3 674.7 1182 685.7 1182.6 694.5C1183.2 703.3 1183.8 710.3 1184.4 718C1185 725.7 1185.7 732.6 1186.3 740.5C1186.9 748.4 1187.9 761.2 1188.2 765.4" stroke="#e3120b" stroke-width="1.9" fill="none" stroke-linejoin="miter" clip-path="url(#cp4)"/>
<path d="M799.7 782.5H822.1" stroke="#111" stroke-width="1.8"/>
<text x="806.5" y="656.7" font-size="17.7" textLength="155.8" lengthAdjust="spacingAndGlyphs" fill="#1a1a1a" class="halo">S) Dosale del piede</text>
<text x="806.5" y="819.7" font-size="17.7" textLength="130.2" lengthAdjust="spacingAndGlyphs" fill="#1a1a1a" class="halo">Guadagno: 35%</text>
</g>
<g fill="none" stroke="#808285" stroke-linecap="butt" stroke-linejoin="round">
<path stroke-width="1.8" d="M504.4 293.1C504.7 295 506 300.9 506.2 304.7C506.4 308.5 506 312 505.6 316.2C505.2 320.4 504.4 324.3 503.9 330.1C503.4 335.9 502.9 343.6 502.5 350.9C502.1 358.2 501.8 366.6 501.6 374C501.4 381.4 501.2 389.4 501.2 395C501.2 400.6 501.2 401.4 501.6 407.3C502 413.2 502.8 422.7 503.3 430.4C503.8 438.1 504.3 445.8 504.4 453.5C504.4 461.2 503.8 470.2 503.6 476.6C503.4 483 503.2 487.2 503.3 491.6C503.4 496 504 500 504.4 503.2C504.8 506.4 504.9 507 505.6 511C506.3 515 507.2 521.1 508.5 527.3C509.8 533.5 511.6 541.8 513.1 548.1C514.6 554.5 516.4 560.2 517.7 565.4C519.1 570.6 520.3 575 521.2 579.3C522.1 583.5 522.6 587.2 522.9 590.9C523.2 594.6 522.6 597.4 522.9 601.3C523.2 605.1 523.8 610 524.7 614C525.6 618 527 622.2 528.1 625.5C529.2 628.8 530 630.8 531.6 633.6C533.2 636.4 536.9 640.7 537.9 642.1M531 635.5C530.8 638 530.5 645 529.9 650.8C529.3 656.6 528.3 663.8 527.5 670.4C526.7 677 525.8 683.4 525.2 690.1C524.6 696.9 524.2 705.1 524.1 710.9C524 716.7 524.3 719.7 524.7 724.7C525.1 729.7 525.9 736.7 526.4 740.9C526.9 745.1 526.8 745 527.5 750C528.2 755 529.1 763.5 530.4 770.8C531.6 778.1 533.3 785.8 535 793.9C536.7 802 539.1 811.2 540.8 819.3C542.5 827.4 544.1 835.1 545.4 842.4C546.6 849.7 547.6 858.3 548.3 863.2C548.9 868.1 548.8 868.5 549.3 872C549.8 875.5 550.3 879.4 551 883.9C551.7 888.4 553 894.9 553.4 898.9C553.8 902.9 553.9 904.6 553.4 908.1C552.9 911.6 551.8 916 550.5 919.7C549.2 923.4 547.5 927.4 545.8 930.1C544.1 932.8 541 934.8 540.1 935.8M605.3 930.1C604.6 928.2 602.3 922.7 601.3 918.5C600.2 914.3 599.5 909.9 599 904.7C598.5 899.5 598.6 893.1 598.4 887.3C598.2 881.5 598 874.9 598 870C598 865.1 598.3 862.6 598.4 858C598.5 853.4 598.5 848.9 598.4 842.4C598.3 835.9 598.1 826.2 598 819.3C597.9 812.4 597.7 805.6 598 800.8C598.3 796 598.7 794 599.7 790.4C600.7 786.8 602.6 783.3 603.8 778.9C605 774.5 605.9 768.7 606.7 763.9C607.5 759.1 607.9 755 608.4 750C608.9 745 609.4 738.6 609.6 734C609.8 729.4 610 727.4 609.6 722.4C609.2 717.4 608.4 710.6 607.2 703.9C606 697.2 604.2 689.3 602.6 682C601 674.7 598.8 666.4 597.4 660C596 653.6 595.1 648.6 594.5 643.9C593.9 639.2 594.1 635.1 594 632C593.9 628.9 593.7 627.7 594 625.5C594.3 623.3 594.6 622.5 595.7 618.6C596.9 614.8 599.1 609 600.9 602.4C602.7 595.8 605.2 587 606.7 579.3C608.2 571.6 609.2 563.9 610.1 556.2C611 548.5 611.4 540.8 611.9 533.1C612.4 525.4 612.7 515.6 613 510C613.3 504.4 613.3 504.3 613.6 499.7C613.9 495.1 614.5 489.1 615 482.4C615.5 475.7 616.3 467 616.7 459.3C617.1 451.6 617.4 443.1 617.6 436.2C617.8 429.3 618 423.5 618.1 418C618.2 412.5 618.2 405.8 618.2 403.3M725.3 293.1C725.2 295 724.5 300.5 724.5 304.7C724.5 308.9 724.7 311.8 725.3 318.5C725.9 325.2 727.3 336.8 728.2 345.1C729.1 353.4 729.7 360.4 730.5 368.2C731.3 376 732.3 386.4 732.8 392C733.3 397.6 733.4 398.1 733.4 401.6C733.4 405.1 733.2 408.9 732.8 413.1C732.4 417.3 731.6 421.2 731.1 427C730.6 432.8 730.1 440.5 730 447.8C729.9 455.1 730.3 463.2 730.5 470.9C730.7 478.6 731.2 487.5 731.1 494C731 500.5 730.6 504.4 730 510C729.4 515.5 728.6 521.5 727.6 527.3C726.6 533.1 725.5 539.1 724.2 544.7C723 550.3 721.7 555.6 720.1 560.8C718.5 566 716.2 571.2 714.9 575.8C713.5 580.4 712.5 584.6 712 588.5C711.5 592.4 712.3 595 712 598.9C711.7 602.8 711.2 607.7 710.3 611.7C709.3 615.8 707.9 619.8 706.3 623.2C704.7 626.7 702.7 629.2 700.5 632.4C698.3 635.5 694.3 640.5 693.1 642.1M700 635.5C700.2 638 700.5 645 701.1 650.8C701.7 656.6 702.7 663.8 703.5 670.4C704.3 677 705.2 683.4 705.8 690.1C706.4 696.9 706.8 705.1 706.9 710.9C707 716.7 706.7 719.7 706.3 724.7C705.9 729.7 705.1 736.7 704.6 740.9C704.1 745.1 704.2 745 703.5 750C702.8 755 701.9 763.5 700.6 770.8C699.4 778.1 697.7 785.8 696 793.9C694.3 802 691.9 811.2 690.2 819.3C688.5 827.4 686.9 835.1 685.6 842.4C684.4 849.7 683.4 858.3 682.7 863.2C682.1 868.1 682.2 868.5 681.7 872C681.2 875.5 680.7 879.4 680 883.9C679.3 888.4 678 894.9 677.6 898.9C677.2 902.9 677.1 904.6 677.6 908.1C678.1 911.6 679.2 916 680.5 919.7C681.8 923.4 683.5 927.4 685.2 930.1C686.9 932.8 690 934.8 690.9 935.8M625.7 930.1C626.4 928.2 628.7 922.7 629.7 918.5C630.8 914.3 631.5 909.9 632 904.7C632.5 899.5 632.4 893.1 632.6 887.3C632.8 881.5 633 874.9 633 870C633 865.1 632.7 862.6 632.6 858C632.5 853.4 632.5 848.9 632.6 842.4C632.7 835.9 632.9 826.2 633 819.3C633.1 812.4 633.3 805.6 633 800.8C632.7 796 632.3 794 631.3 790.4C630.3 786.8 628.4 783.3 627.2 778.9C626 774.5 625.1 768.7 624.3 763.9C623.5 759.1 623.1 755 622.6 750C622.1 745 621.6 738.6 621.4 734C621.2 729.4 621 727.4 621.4 722.4C621.8 717.4 622.6 710.6 623.8 703.9C625 697.2 626.8 689.3 628.4 682C630 674.7 632.2 666.4 633.6 660C635 653.6 635.9 648.6 636.5 643.9C637.1 639.2 636.9 635.1 637 632C637.1 628.9 637.3 628.5 637 625.5C636.7 622.5 636.2 618.8 635.2 614C634.2 609.2 632.6 603.4 631.2 596.6C629.8 589.9 627.9 581.2 626.6 573.5C625.4 565.8 624.5 558.1 623.7 550.4C622.9 542.6 622.5 533.7 621.9 527C621.3 520.3 620.8 515.5 620.3 510C619.8 504.5 619.6 500.5 619.1 494C618.6 487.5 617.7 478.6 617.5 470.9C617.3 463.2 617.8 456.3 617.9 447.8C618 439.3 618.2 427.4 618.3 420C618.4 412.6 618.3 406.1 618.3 403.3"/>
<path stroke-width="1.85" stroke-linecap="round" d="M540.1 935.8C539.3 936.6 537 938.4 535.4 940.5C533.8 942.6 532.3 945.6 530.8 948.5C529.3 951.4 528.4 954.9 526.5 957.9C524.6 960.9 522.1 964.1 519.6 966.8C517.1 969.4 514.3 972.1 511.7 973.8C509.1 975.5 506.1 976 503.8 977.2C501.5 978.4 499.4 979.6 497.8 981.2C496.2 982.8 495.2 984.9 494.4 986.6C493.6 988.3 493 990.3 492.9 991.6C492.8 992.9 493.5 993.9 493.9 994.6C494.3 995.3 495.1 995.8 495.3 996L495.3 996C495.2 996.4 494.7 997.4 494.9 998.5C495.1 999.6 495.4 1001.5 496.3 1002.5C497.2 1003.5 499.6 1004.2 500.3 1004.5L500.3 1004.5C500.5 1005.1 500.7 1007.2 501.3 1008.4C501.9 1009.5 502.9 1010.7 503.8 1011.4C504.7 1012.1 506.2 1012.2 506.7 1012.4L506.7 1012.4C506.9 1012.9 507.5 1014.5 508.2 1015.3C508.9 1016.1 509.8 1016.9 510.7 1017.3C511.6 1017.7 513.2 1017.7 513.7 1017.8L513.7 1017.8C514 1018.4 514.6 1020.4 515.6 1021.3C516.6 1022.2 518.1 1022.9 519.6 1023.3C521.1 1023.7 522.8 1023.7 524.6 1023.5C526.4 1023.3 528.7 1023 530.5 1022.3C532.3 1021.6 533.8 1020.3 535.4 1019.3C537 1018.3 539.2 1017.3 540.4 1016.3C541.6 1015.3 541.1 1014.2 542.4 1013.4C543.7 1012.6 546.3 1012.2 548.3 1011.4C550.3 1010.6 552.5 1009.9 554.3 1008.4C556.1 1006.9 557.7 1005 559.2 1002.5C560.7 1000 562.1 996.9 563.2 993.6C564.4 990.3 565.1 985.8 566.1 982.7C567.1 979.6 567.8 976.9 569.1 974.8C570.4 972.6 571.6 971.1 574.1 969.8C576.6 968.5 580.7 968.1 584 966.8C587.3 965.5 590.8 963.6 593.9 961.9C597 960.2 600.3 958.8 602.4 956.6C604.5 954.4 605.7 951.4 606.5 948.5C607.3 945.6 607.3 942.4 607.1 939.3C606.9 936.2 605.6 931.6 605.3 930.1M505.2 984.7C505 985.4 504.7 987.3 503.8 988.6C502.9 989.9 501.2 991.4 499.8 992.6C498.4 993.8 496.1 995.4 495.3 996M511.5 990.6C511 991.4 510 993.9 508.7 995.5C507.4 997.1 505.2 999 503.8 1000.5C502.4 1002 500.9 1003.8 500.3 1004.5M517.4 996.5C517 997.3 516 999.9 514.7 1001.5C513.4 1003.1 510.9 1005.1 509.7 1006.4C508.4 1007.7 507.7 1008.4 507.2 1009.4C506.7 1010.4 506.8 1011.9 506.7 1012.4M528.2 997C527.9 997.8 527.4 1000 526.5 1001.5C525.6 1003 524.1 1004.6 522.6 1005.9C521.1 1007.2 518.9 1008.3 517.6 1009.4C516.3 1010.5 515.3 1011.4 514.7 1012.4C514.1 1013.4 514.1 1014.4 513.9 1015.3C513.7 1016.2 513.7 1017.4 513.7 1017.8M514.7 1012.4C515.2 1011.7 516.3 1009.4 517.6 1008.4C518.9 1007.4 521 1006.6 522.6 1006.4C524.2 1006.2 526.4 1006.8 527.5 1007.4C528.6 1008 529.4 1008.9 529.5 1009.9C529.6 1010.9 529 1012.5 528 1013.4C527 1014.3 525.2 1015.1 523.6 1015.5C522 1015.9 520 1016 518.6 1015.8C517.2 1015.6 516 1014.8 515.4 1014.2C514.8 1013.6 514.8 1012.7 514.7 1012.4M690.9 935.8C691.7 936.6 694 938.4 695.6 940.5C697.2 942.6 698.7 945.6 700.2 948.5C701.7 951.4 702.6 954.9 704.5 957.9C706.4 960.9 708.9 964.1 711.4 966.8C713.9 969.4 716.7 972.1 719.3 973.8C721.9 975.5 724.9 976 727.2 977.2C729.5 978.4 731.6 979.6 733.2 981.2C734.8 982.8 735.8 984.9 736.6 986.6C737.4 988.3 738 990.3 738.1 991.6C738.2 992.9 737.5 993.9 737.1 994.6C736.7 995.3 735.9 995.8 735.7 996L735.7 996C735.8 996.4 736.3 997.4 736.1 998.5C735.9 999.6 735.6 1001.5 734.7 1002.5C733.8 1003.5 731.4 1004.2 730.7 1004.5L730.7 1004.5C730.5 1005.1 730.3 1007.2 729.7 1008.4C729.1 1009.5 728.1 1010.7 727.2 1011.4C726.3 1012.1 724.8 1012.2 724.3 1012.4L724.3 1012.4C724 1012.9 723.5 1014.5 722.8 1015.3C722.1 1016.1 721.2 1016.9 720.3 1017.3C719.4 1017.7 717.8 1017.7 717.3 1017.8L717.3 1017.8C717 1018.4 716.4 1020.4 715.4 1021.3C714.4 1022.2 712.9 1022.9 711.4 1023.3C709.9 1023.7 708.2 1023.7 706.4 1023.5C704.6 1023.3 702.3 1023 700.5 1022.3C698.7 1021.6 697.2 1020.3 695.6 1019.3C694 1018.3 691.8 1017.3 690.6 1016.3C689.4 1015.3 689.9 1014.2 688.6 1013.4C687.3 1012.6 684.7 1012.2 682.7 1011.4C680.7 1010.6 678.5 1009.9 676.7 1008.4C674.9 1006.9 673.3 1005 671.8 1002.5C670.3 1000 668.9 996.9 667.8 993.6C666.6 990.3 665.9 985.8 664.9 982.7C663.9 979.6 663.2 976.9 661.9 974.8C660.6 972.6 659.4 971.1 656.9 969.8C654.4 968.5 650.3 968.1 647 966.8C643.7 965.5 640.2 963.6 637.1 961.9C634 960.2 630.7 958.8 628.6 956.6C626.5 954.4 625.3 951.4 624.5 948.5C623.7 945.6 623.7 942.4 623.9 939.3C624.1 936.2 625.4 931.6 625.7 930.1M725.8 984.7C726 985.4 726.3 987.3 727.2 988.6C728.1 989.9 729.8 991.4 731.2 992.6C732.6 993.8 735 995.4 735.7 996M719.5 990.6C720 991.4 721 993.9 722.3 995.5C723.6 997.1 725.8 999 727.2 1000.5C728.6 1002 730.1 1003.8 730.7 1004.5M713.6 996.5C714 997.3 715 999.9 716.3 1001.5C717.6 1003.1 720 1005.1 721.3 1006.4C722.5 1007.7 723.3 1008.4 723.8 1009.4C724.3 1010.4 724.2 1011.9 724.3 1012.4M702.8 997C703.1 997.8 703.6 1000 704.5 1001.5C705.4 1003 706.9 1004.6 708.4 1005.9C709.9 1007.2 712.1 1008.3 713.4 1009.4C714.7 1010.5 715.7 1011.4 716.3 1012.4C716.9 1013.4 716.9 1014.4 717.1 1015.3C717.3 1016.2 717.3 1017.4 717.3 1017.8M716.3 1012.4C715.8 1011.7 714.7 1009.4 713.4 1008.4C712.1 1007.4 710 1006.6 708.4 1006.4C706.8 1006.2 704.6 1006.8 703.5 1007.4C702.4 1008 701.6 1008.9 701.5 1009.9C701.4 1010.9 702 1012.5 703 1013.4C704 1014.3 705.8 1015.1 707.4 1015.5C709 1015.9 711 1016 712.4 1015.8C713.8 1015.6 715 1014.8 715.6 1014.2C716.2 1013.6 716.2 1012.7 716.3 1012.4"/>
</g>
<g><path d="M605.2 282.7C605 283.5 604.6 285.6 604.2 287.3C603.8 289 603.3 291 602.7 293.1C602.1 295.2 601.4 297.9 600.8 300C600.2 302.1 599.6 304 598.9 305.8C598.2 307.6 597.5 309.3 596.6 311C595.7 312.7 594.9 314.3 593.5 316.2C592.1 318.1 590.1 320.7 588.2 322.6C586.4 324.5 584.5 325.6 582.4 327.8C580.3 330 577.8 332.9 575.5 335.8C573.2 338.7 570.8 341.8 568.5 345.1C566.2 348.4 563.9 351.6 561.6 355.5C559.3 359.4 556.8 364 554.7 368.2C552.6 372.4 550.5 377 548.9 380.9C547.3 384.8 546.4 387.9 545.4 391.3C544.4 394.8 543.9 397.6 543.1 401.6C542.3 405.6 541.6 411 540.8 415.4C540 419.8 539.6 423.9 538.5 428.1C537.4 432.3 535.4 436.4 533.9 440.8C532.4 445.2 530.5 450.5 529.3 454.7C528 458.9 527.1 462.9 526.4 466.2C525.7 469.5 525.4 472.6 525.3 474.5C525.2 476.4 525.4 476.7 525.8 477.4C526.2 478.1 527.2 478.5 527.9 478.5C528.6 478.5 529.5 478.1 530 477.2C530.5 476.3 530.5 475.4 531 473.2C531.5 471 532.2 467.2 533.3 463.9C534.4 460.6 536.4 455.8 537.4 453.5C538.4 451.2 538.9 450.7 539.4 450C539.9 449.3 540.4 449.2 540.6 449.1L540.6 449.1C540.8 449.3 541.4 449.5 541.8 450.2C542.2 450.9 542.3 451.5 543.1 453.5C543.9 455.5 545.7 460.5 546.4 462.4C547.1 464.2 546.9 464.1 547.4 464.6C547.9 465.1 548.5 465.4 549.1 465.4C549.7 465.4 550.4 464.9 550.8 464.4C551.1 463.9 551.5 464.4 551.2 462.2C550.9 460 549.7 455.5 548.9 451.2C548.1 446.9 547 440.2 546.6 436.2C546.2 432.2 546.1 429.9 546.3 427C546.5 424.1 547.2 420.9 547.8 418.9C548.3 416.9 549 416.1 549.6 415.2C550.2 414.3 550.9 413.9 551.2 413.7L551.2 413.7C551.4 413.9 552 414.1 552.4 414.8C552.8 415.5 552.5 414.5 553.5 417.7C554.5 420.9 556.5 427.7 558.2 433.9C559.9 440.1 562.2 447.4 563.9 454.7C565.6 462 567.1 470.1 568.5 477.8C569.9 485.5 571.2 495.4 572 500.9C572.8 506.4 572.7 506.6 573.2 511C573.7 515.4 574.3 521.7 574.9 527.3C575.5 532.9 576.1 538.9 576.6 544.7C577.1 550.5 577.6 556.2 577.8 562C578 567.8 578.1 573.7 577.8 579.3C577.5 584.9 577 590.1 576.1 595.5C575.2 600.9 573.9 606.7 572.6 611.7C571.3 616.7 569.5 622.5 568.5 625.5C567.5 628.5 567.9 627.1 566.8 630C565.6 632.9 563.4 638.9 561.6 642.7C559.8 646.6 557.7 649.1 555.8 653.1C553.9 657.1 551.8 662 550.1 667C548.4 672 546.6 677.7 545.4 683.1C544.2 688.5 543.7 693.5 543.1 699.3C542.5 705.1 541.9 712 541.7 717.8C541.5 723.6 541.8 728.6 542 734C542.2 739.4 542.5 744.6 542.9 750.1C543.3 755.6 543.7 761 544.3 767.3C544.9 773.6 545.6 781 546.6 788.1C547.6 795.2 548.8 802.6 550.1 810.1C551.5 817.6 553.2 825.1 554.7 833.2C556.2 841.3 558.1 851.6 559.3 858.6C560.5 865.6 561.5 872.3 562 875L565 875C564.7 872.3 564.2 865.6 563.4 858.6C562.5 851.6 561.2 841.3 559.9 833.2C558.6 825.1 557 817.2 555.8 810.1C554.5 803 553.4 797.5 552.4 790.4C551.4 783.3 550.2 774 549.5 767.3C548.8 760.6 548.8 755.5 548.3 750C547.8 744.5 547 739.4 546.8 734C546.6 728.6 546.9 723.2 547.2 717.8C547.6 712.4 547.9 707.2 548.9 701.6C549.9 696 551.5 689.7 553 684.3C554.5 678.9 556.4 673.7 558.2 669.3C560 664.9 562.6 660.2 563.9 657.7C565.2 655.2 565.6 655.1 566.2 654.4C566.8 653.7 567.3 653.8 567.5 653.7L567.5 653.7C567.7 653.9 568.2 654.1 568.5 654.8C568.8 655.5 568.7 655.1 569.1 657.7C569.5 660.3 570.3 666.4 570.9 670.4C571.5 674.4 572.2 678.5 572.6 682C573 685.5 573.5 688.3 573.4 691.2C573.3 694.1 572.5 696.4 572 699.3C571.5 702.2 570.8 705.4 570.3 708.5C569.8 711.6 569.4 714.3 569.1 717.8C568.9 721.3 568.8 725.1 568.8 729.3C568.8 733.5 569 739.8 569.1 743.2C569.2 746.7 569.4 746 569.7 750C570 754 570.5 760.6 570.9 767.3C571.3 774 571.8 782.7 572.2 790.4C572.6 798.1 573.1 805.8 573.4 813.5C573.7 821.2 573.9 828.9 573.9 836.6C573.9 844.3 573.6 853.2 573.4 859.7C573.2 866.2 572.9 872.4 572.9 875.3C572.9 878.2 573 876.6 573.3 877C573.5 877.4 574 877.7 574.4 877.7C574.8 877.7 575.2 877.4 575.4 877.1C575.6 876.8 575.6 878.8 575.8 875.9C576 873 576.2 866.2 576.4 859.7C576.6 853.2 577.1 844.3 577.2 836.6C577.3 828.9 577.3 821.2 577.2 813.5C577.1 805.8 576.9 798.1 576.6 790.4C576.3 782.7 575.9 774 575.5 767.3C575.1 760.6 574.6 755.5 574.3 750C573.9 744.5 573.5 738.6 573.4 734C573.3 729.4 573.5 725.9 573.7 722.4C574 718.9 574.6 715.2 574.9 713.2C575.2 711.2 575.4 711.2 575.6 710.6C575.9 710 576.3 709.9 576.4 709.7L576.4 709.7C576.5 709.9 577 710 577.3 710.6C577.6 711.2 577.7 710.9 578.4 713.2C579.1 715.6 580.3 720.7 581.3 724.7C582.2 728.7 583.3 733.2 584.1 737.4C584.9 741.6 585.6 746.8 586.1 750.1C586.6 753.5 587.1 755 587.4 757.5C587.7 760 587.9 762.7 588 765C588.1 767.3 588.1 769.2 588 771.5C587.9 773.8 588 774.4 587.6 778.9C587.2 783.4 586.5 791.8 585.9 798.5C585.3 805.2 584.6 812 584.1 819.3C583.6 826.6 583.2 834.7 583 842.4C582.8 850.1 583 859.2 583 865.5C583 871.8 583 876.4 583.1 880.1C583.1 883.8 583.2 883.3 583.5 887.4C583.8 891.5 584.5 899.6 584.8 904.8C585.2 910 585.5 914.7 585.6 918.5C585.7 922.3 585.6 924.8 585.3 927.6C585 930.4 584.6 932.8 583.8 935.4C583 938 582 940.8 580.6 943.3C579.2 945.8 577 948.2 575.2 950.3C573.4 952.4 570.7 955 569.7 955.9L570.7 956.9C571.6 956 574.6 953.6 576.6 951.5C578.6 949.4 581 947.1 582.6 944.5C584.3 942 585.5 939 586.4 936.2C587.4 933.5 587.9 930.9 588.3 928C588.7 925 588.8 922.4 588.8 918.5C588.8 914.6 588.5 909.8 588.2 904.6C587.9 899.4 587.3 891.3 587.1 887.2C586.9 883.1 586.8 883.5 586.7 879.9C586.7 876.3 586.7 871.7 586.8 865.5C586.9 859.3 587 850.1 587.3 842.4C587.6 834.7 588 826.6 588.4 819.3C588.8 812 589.4 805.2 589.9 798.5C590.4 791.8 591.1 783.6 591.4 778.9C591.7 774.1 591.8 772.8 591.9 770C592 767.2 592 765.3 591.9 762C591.8 758.7 591.8 755.2 591.2 750C590.6 744.8 589.3 736.6 588.2 730.5C587.1 724.4 585.9 718.8 584.7 713.2C583.6 707.6 582.2 702.2 581.3 697C580.3 691.8 579.8 687.4 579 682C578.2 676.6 577.3 669.9 576.6 664.7C575.9 659.5 575.2 654.6 574.9 650.8C574.6 646.9 574.6 645.1 574.9 641.6C575.2 638.1 576 632.7 576.6 630C577.2 627.3 577.5 629 578.4 625.5C579.3 622 580.8 614.7 581.8 609.3C582.8 603.9 584 598.2 584.7 593.2C585.4 588.2 585.7 584.5 585.9 579.3C586.1 574.1 586.2 567.8 586.1 562C586 556.2 585.7 550.5 585.3 544.7C584.9 538.9 584.2 532.2 583.6 527.3C583 522.3 582.2 518.6 581.6 515C581 511.4 580.7 510.2 580.1 505.5C579.5 500.8 578.8 493.9 577.8 487C576.8 480.1 575.4 471.2 574.3 463.9C573.1 456.6 572.2 449.6 570.9 443.1C569.5 436.6 567.6 430.5 566.2 424.7C564.9 418.9 563.6 412.8 562.8 408.5C562 404.2 561.7 402.1 561.6 399.2C561.5 396.3 561.6 394.4 562.2 391.3C562.8 388.2 563.9 384.4 565.1 380.9C566.4 377.4 568 374 569.7 370.5C571.4 367 573.6 363.2 575.5 360.1C577.4 357 579.9 353.8 581.3 352C582.7 350.2 583.1 349.8 583.8 349.2C584.5 348.6 585 348.2 585.6 348.2C586.2 348.2 587 348.6 587.4 349.2C587.8 349.8 588.1 350.4 588.2 351.6C588.3 352.8 588.2 355.8 588.2 356.6L588.2 356.6C588.2 356.8 588.2 357.6 588.5 358C588.8 358.4 589.7 358.6 589.9 358.7L589.9 358.7L598 358.7L598 358.7C598.2 358.6 599 358.5 599.3 358.1C599.6 357.8 599.7 356.9 599.8 356.6L599.8 356.6C599.9 354.7 600 347.8 600.3 345.1C600.6 342.4 600.8 341.9 601.5 340.5C602.2 339.1 603.1 337.6 604.4 336.4C605.6 335.2 607.6 334.1 609 333.5C610.4 332.9 611.7 332.9 613 332.8C614.3 332.7 616.3 332.7 617 332.7L617 332.7L617 278.1L617 278.1L608.7 278.1L608.7 278.1C608.3 278.2 606.8 278.2 606.2 279C605.6 279.8 605.4 282.1 605.2 282.7Z" fill="#ee3124"/><path d="M562 872.1C562.2 874.7 563 882 563.4 887.4C563.9 892.8 564.5 899 564.7 904.7C564.8 910.5 564.5 916.9 564.1 921.9C563.7 926.8 563.2 930.6 562.5 934.4C561.7 938.2 560.9 941.6 559.7 944.6C558.5 947.6 556.8 950.4 555.3 952.5C553.8 954.7 552.1 956.5 550.7 957.6C549.3 958.7 547.4 958.7 546.7 958.9L547.3 960.7C548 960.4 550.2 960.3 551.9 959.2C553.5 958.1 555.4 956.1 557.1 953.9C558.8 951.6 560.7 948.7 562.1 945.6C563.4 942.4 564.3 938.9 565.1 935C565.9 931.1 566.5 927.2 566.9 922.1C567.3 917.1 567.6 910.5 567.5 904.7C567.5 898.9 566.8 892.7 566.4 887.2C566 881.7 565.3 874.4 565 871.9Z" fill="#ee3124"/><path d="M555.2 955C554.6 955.6 552.7 957.8 551.3 958.6C549.9 959.4 548.3 959.5 547 959.8C545.7 960.1 545.6 960 543.4 960.4C541.1 960.8 536.5 961.5 533.5 962.4C530.5 963.3 527.6 964.3 525.5 965.8C523.4 967.3 521.8 969.5 520.6 971.3C519.5 973.1 518.8 975.1 518.6 976.7C518.4 978.3 518.8 979.3 519.6 980.7C520.4 982.1 522 983.8 523.6 985.1C525.2 986.4 527.2 987.7 529.5 988.6C531.8 989.5 534.9 990.4 537.4 990.6C539.9 990.9 542.4 990.6 544.4 990.1C546.4 989.6 548.1 988.7 549.3 987.6C550.4 986.5 551.1 985.4 551.3 983.7C551.5 982.1 550.9 979.7 550.5 977.7C550.1 975.7 549.2 973.9 549 971.8C548.8 969.7 548.9 966.9 549.3 964.9C549.7 962.9 550.3 961.5 551.3 959.9C552.3 958.2 554.6 955.8 555.2 955" fill="none" stroke="#ee3124" stroke-width="1.55" stroke-linecap="round"/><path d="M518.1 980.2L512.7 982.5M519.1 983.2L513.7 986.1M521.6 986.1L516.1 990.6M524.6 988.1L519.6 993.6M527.5 989.6C527.4 990.3 527.6 992.5 527 993.6C526.4 994.8 524.2 996 523.6 996.5M532 991.1C532.2 991.7 533.6 993.4 533.5 994.6C533.4 995.8 531.8 997.9 531.5 998.5M536.4 991.4C536.9 992.1 539.1 993.8 539.4 995.5C539.7 997.2 538.6 1000.5 538.4 1001.5" fill="none" stroke="#ee3124" stroke-width="1.1" stroke-linecap="round"/></g>
<g transform="translate(1231 0) scale(-1 1)"><path d="M605.2 282.7C605 283.5 604.6 285.6 604.2 287.3C603.8 289 603.3 291 602.7 293.1C602.1 295.2 601.4 297.9 600.8 300C600.2 302.1 599.6 304 598.9 305.8C598.2 307.6 597.5 309.3 596.6 311C595.7 312.7 594.9 314.3 593.5 316.2C592.1 318.1 590.1 320.7 588.2 322.6C586.4 324.5 584.5 325.6 582.4 327.8C580.3 330 577.8 332.9 575.5 335.8C573.2 338.7 570.8 341.8 568.5 345.1C566.2 348.4 563.9 351.6 561.6 355.5C559.3 359.4 556.8 364 554.7 368.2C552.6 372.4 550.5 377 548.9 380.9C547.3 384.8 546.4 387.9 545.4 391.3C544.4 394.8 543.9 397.6 543.1 401.6C542.3 405.6 541.6 411 540.8 415.4C540 419.8 539.6 423.9 538.5 428.1C537.4 432.3 535.4 436.4 533.9 440.8C532.4 445.2 530.5 450.5 529.3 454.7C528 458.9 527.1 462.9 526.4 466.2C525.7 469.5 525.4 472.6 525.3 474.5C525.2 476.4 525.4 476.7 525.8 477.4C526.2 478.1 527.2 478.5 527.9 478.5C528.6 478.5 529.5 478.1 530 477.2C530.5 476.3 530.5 475.4 531 473.2C531.5 471 532.2 467.2 533.3 463.9C534.4 460.6 536.4 455.8 537.4 453.5C538.4 451.2 538.9 450.7 539.4 450C539.9 449.3 540.4 449.2 540.6 449.1L540.6 449.1C540.8 449.3 541.4 449.5 541.8 450.2C542.2 450.9 542.3 451.5 543.1 453.5C543.9 455.5 545.7 460.5 546.4 462.4C547.1 464.2 546.9 464.1 547.4 464.6C547.9 465.1 548.5 465.4 549.1 465.4C549.7 465.4 550.4 464.9 550.8 464.4C551.1 463.9 551.5 464.4 551.2 462.2C550.9 460 549.7 455.5 548.9 451.2C548.1 446.9 547 440.2 546.6 436.2C546.2 432.2 546.1 429.9 546.3 427C546.5 424.1 547.2 420.9 547.8 418.9C548.3 416.9 549 416.1 549.6 415.2C550.2 414.3 550.9 413.9 551.2 413.7L551.2 413.7C551.4 413.9 552 414.1 552.4 414.8C552.8 415.5 552.5 414.5 553.5 417.7C554.5 420.9 556.5 427.7 558.2 433.9C559.9 440.1 562.2 447.4 563.9 454.7C565.6 462 567.1 470.1 568.5 477.8C569.9 485.5 571.2 495.4 572 500.9C572.8 506.4 572.7 506.6 573.2 511C573.7 515.4 574.3 521.7 574.9 527.3C575.5 532.9 576.1 538.9 576.6 544.7C577.1 550.5 577.6 556.2 577.8 562C578 567.8 578.1 573.7 577.8 579.3C577.5 584.9 577 590.1 576.1 595.5C575.2 600.9 573.9 606.7 572.6 611.7C571.3 616.7 569.5 622.5 568.5 625.5C567.5 628.5 567.9 627.1 566.8 630C565.6 632.9 563.4 638.9 561.6 642.7C559.8 646.6 557.7 649.1 555.8 653.1C553.9 657.1 551.8 662 550.1 667C548.4 672 546.6 677.7 545.4 683.1C544.2 688.5 543.7 693.5 543.1 699.3C542.5 705.1 541.9 712 541.7 717.8C541.5 723.6 541.8 728.6 542 734C542.2 739.4 542.5 744.6 542.9 750.1C543.3 755.6 543.7 761 544.3 767.3C544.9 773.6 545.6 781 546.6 788.1C547.6 795.2 548.8 802.6 550.1 810.1C551.5 817.6 553.2 825.1 554.7 833.2C556.2 841.3 558.1 851.6 559.3 858.6C560.5 865.6 561.5 872.3 562 875L565 875C564.7 872.3 564.2 865.6 563.4 858.6C562.5 851.6 561.2 841.3 559.9 833.2C558.6 825.1 557 817.2 555.8 810.1C554.5 803 553.4 797.5 552.4 790.4C551.4 783.3 550.2 774 549.5 767.3C548.8 760.6 548.8 755.5 548.3 750C547.8 744.5 547 739.4 546.8 734C546.6 728.6 546.9 723.2 547.2 717.8C547.6 712.4 547.9 707.2 548.9 701.6C549.9 696 551.5 689.7 553 684.3C554.5 678.9 556.4 673.7 558.2 669.3C560 664.9 562.6 660.2 563.9 657.7C565.2 655.2 565.6 655.1 566.2 654.4C566.8 653.7 567.3 653.8 567.5 653.7L567.5 653.7C567.7 653.9 568.2 654.1 568.5 654.8C568.8 655.5 568.7 655.1 569.1 657.7C569.5 660.3 570.3 666.4 570.9 670.4C571.5 674.4 572.2 678.5 572.6 682C573 685.5 573.5 688.3 573.4 691.2C573.3 694.1 572.5 696.4 572 699.3C571.5 702.2 570.8 705.4 570.3 708.5C569.8 711.6 569.4 714.3 569.1 717.8C568.9 721.3 568.8 725.1 568.8 729.3C568.8 733.5 569 739.8 569.1 743.2C569.2 746.7 569.4 746 569.7 750C570 754 570.5 760.6 570.9 767.3C571.3 774 571.8 782.7 572.2 790.4C572.6 798.1 573.1 805.8 573.4 813.5C573.7 821.2 573.9 828.9 573.9 836.6C573.9 844.3 573.6 853.2 573.4 859.7C573.2 866.2 572.9 872.4 572.9 875.3C572.9 878.2 573 876.6 573.3 877C573.5 877.4 574 877.7 574.4 877.7C574.8 877.7 575.2 877.4 575.4 877.1C575.6 876.8 575.6 878.8 575.8 875.9C576 873 576.2 866.2 576.4 859.7C576.6 853.2 577.1 844.3 577.2 836.6C577.3 828.9 577.3 821.2 577.2 813.5C577.1 805.8 576.9 798.1 576.6 790.4C576.3 782.7 575.9 774 575.5 767.3C575.1 760.6 574.6 755.5 574.3 750C573.9 744.5 573.5 738.6 573.4 734C573.3 729.4 573.5 725.9 573.7 722.4C574 718.9 574.6 715.2 574.9 713.2C575.2 711.2 575.4 711.2 575.6 710.6C575.9 710 576.3 709.9 576.4 709.7L576.4 709.7C576.5 709.9 577 710 577.3 710.6C577.6 711.2 577.7 710.9 578.4 713.2C579.1 715.6 580.3 720.7 581.3 724.7C582.2 728.7 583.3 733.2 584.1 737.4C584.9 741.6 585.6 746.8 586.1 750.1C586.6 753.5 587.1 755 587.4 757.5C587.7 760 587.9 762.7 588 765C588.1 767.3 588.1 769.2 588 771.5C587.9 773.8 588 774.4 587.6 778.9C587.2 783.4 586.5 791.8 585.9 798.5C585.3 805.2 584.6 812 584.1 819.3C583.6 826.6 583.2 834.7 583 842.4C582.8 850.1 583 859.2 583 865.5C583 871.8 583 876.4 583.1 880.1C583.1 883.8 583.2 883.3 583.5 887.4C583.8 891.5 584.5 899.6 584.8 904.8C585.2 910 585.5 914.7 585.6 918.5C585.7 922.3 585.6 924.8 585.3 927.6C585 930.4 584.6 932.8 583.8 935.4C583 938 582 940.8 580.6 943.3C579.2 945.8 577 948.2 575.2 950.3C573.4 952.4 570.7 955 569.7 955.9L570.7 956.9C571.6 956 574.6 953.6 576.6 951.5C578.6 949.4 581 947.1 582.6 944.5C584.3 942 585.5 939 586.4 936.2C587.4 933.5 587.9 930.9 588.3 928C588.7 925 588.8 922.4 588.8 918.5C588.8 914.6 588.5 909.8 588.2 904.6C587.9 899.4 587.3 891.3 587.1 887.2C586.9 883.1 586.8 883.5 586.7 879.9C586.7 876.3 586.7 871.7 586.8 865.5C586.9 859.3 587 850.1 587.3 842.4C587.6 834.7 588 826.6 588.4 819.3C588.8 812 589.4 805.2 589.9 798.5C590.4 791.8 591.1 783.6 591.4 778.9C591.7 774.1 591.8 772.8 591.9 770C592 767.2 592 765.3 591.9 762C591.8 758.7 591.8 755.2 591.2 750C590.6 744.8 589.3 736.6 588.2 730.5C587.1 724.4 585.9 718.8 584.7 713.2C583.6 707.6 582.2 702.2 581.3 697C580.3 691.8 579.8 687.4 579 682C578.2 676.6 577.3 669.9 576.6 664.7C575.9 659.5 575.2 654.6 574.9 650.8C574.6 646.9 574.6 645.1 574.9 641.6C575.2 638.1 576 632.7 576.6 630C577.2 627.3 577.5 629 578.4 625.5C579.3 622 580.8 614.7 581.8 609.3C582.8 603.9 584 598.2 584.7 593.2C585.4 588.2 585.7 584.5 585.9 579.3C586.1 574.1 586.2 567.8 586.1 562C586 556.2 585.7 550.5 585.3 544.7C584.9 538.9 584.2 532.2 583.6 527.3C583 522.3 582.2 518.6 581.6 515C581 511.4 580.7 510.2 580.1 505.5C579.5 500.8 578.8 493.9 577.8 487C576.8 480.1 575.4 471.2 574.3 463.9C573.1 456.6 572.2 449.6 570.9 443.1C569.5 436.6 567.6 430.5 566.2 424.7C564.9 418.9 563.6 412.8 562.8 408.5C562 404.2 561.7 402.1 561.6 399.2C561.5 396.3 561.6 394.4 562.2 391.3C562.8 388.2 563.9 384.4 565.1 380.9C566.4 377.4 568 374 569.7 370.5C571.4 367 573.6 363.2 575.5 360.1C577.4 357 579.9 353.8 581.3 352C582.7 350.2 583.1 349.8 583.8 349.2C584.5 348.6 585 348.2 585.6 348.2C586.2 348.2 587 348.6 587.4 349.2C587.8 349.8 588.1 350.4 588.2 351.6C588.3 352.8 588.2 355.8 588.2 356.6L588.2 356.6C588.2 356.8 588.2 357.6 588.5 358C588.8 358.4 589.7 358.6 589.9 358.7L589.9 358.7L598 358.7L598 358.7C598.2 358.6 599 358.5 599.3 358.1C599.6 357.8 599.7 356.9 599.8 356.6L599.8 356.6C599.9 354.7 600 347.8 600.3 345.1C600.6 342.4 600.8 341.9 601.5 340.5C602.2 339.1 603.1 337.6 604.4 336.4C605.6 335.2 607.6 334.1 609 333.5C610.4 332.9 611.7 332.9 613 332.8C614.3 332.7 616.3 332.7 617 332.7L617 332.7L617 278.1L617 278.1L608.7 278.1L608.7 278.1C608.3 278.2 606.8 278.2 606.2 279C605.6 279.8 605.4 282.1 605.2 282.7Z" fill="#ee3124"/><path d="M562 872.1C562.2 874.7 563 882 563.4 887.4C563.9 892.8 564.5 899 564.7 904.7C564.8 910.5 564.5 916.9 564.1 921.9C563.7 926.8 563.2 930.6 562.5 934.4C561.7 938.2 560.9 941.6 559.7 944.6C558.5 947.6 556.8 950.4 555.3 952.5C553.8 954.7 552.1 956.5 550.7 957.6C549.3 958.7 547.4 958.7 546.7 958.9L547.3 960.7C548 960.4 550.2 960.3 551.9 959.2C553.5 958.1 555.4 956.1 557.1 953.9C558.8 951.6 560.7 948.7 562.1 945.6C563.4 942.4 564.3 938.9 565.1 935C565.9 931.1 566.5 927.2 566.9 922.1C567.3 917.1 567.6 910.5 567.5 904.7C567.5 898.9 566.8 892.7 566.4 887.2C566 881.7 565.3 874.4 565 871.9Z" fill="#ee3124"/><path d="M555.2 955C554.6 955.6 552.7 957.8 551.3 958.6C549.9 959.4 548.3 959.5 547 959.8C545.7 960.1 545.6 960 543.4 960.4C541.1 960.8 536.5 961.5 533.5 962.4C530.5 963.3 527.6 964.3 525.5 965.8C523.4 967.3 521.8 969.5 520.6 971.3C519.5 973.1 518.8 975.1 518.6 976.7C518.4 978.3 518.8 979.3 519.6 980.7C520.4 982.1 522 983.8 523.6 985.1C525.2 986.4 527.2 987.7 529.5 988.6C531.8 989.5 534.9 990.4 537.4 990.6C539.9 990.9 542.4 990.6 544.4 990.1C546.4 989.6 548.1 988.7 549.3 987.6C550.4 986.5 551.1 985.4 551.3 983.7C551.5 982.1 550.9 979.7 550.5 977.7C550.1 975.7 549.2 973.9 549 971.8C548.8 969.7 548.9 966.9 549.3 964.9C549.7 962.9 550.3 961.5 551.3 959.9C552.3 958.2 554.6 955.8 555.2 955" fill="none" stroke="#ee3124" stroke-width="1.55" stroke-linecap="round"/><path d="M518.1 980.2L512.7 982.5M519.1 983.2L513.7 986.1M521.6 986.1L516.1 990.6M524.6 988.1L519.6 993.6M527.5 989.6C527.4 990.3 527.6 992.5 527 993.6C526.4 994.8 524.2 996 523.6 996.5M532 991.1C532.2 991.7 533.6 993.4 533.5 994.6C533.4 995.8 531.8 997.9 531.5 998.5M536.4 991.4C536.9 992.1 539.1 993.8 539.4 995.5C539.7 997.2 538.6 1000.5 538.4 1001.5" fill="none" stroke="#ee3124" stroke-width="1.1" stroke-linecap="round"/></g>
<g fill="none" stroke="#2f47b3" stroke-width="3.1">
<circle cx="558" cy="950.9" r="11.9"/>
<circle cx="585.8" cy="931.5" r="11.9"/>
<circle cx="646" cy="931.5" r="11.9"/>
<circle cx="674" cy="950.9" r="11.9"/>
</g>
<text x="434.1" y="834.3" font-size="21.2" fill="#1a1a1a" stroke="#1a1a1a" stroke-width="0.18" textLength="77.5" lengthAdjust="spacingAndGlyphs">122 (PT)</text>
<text x="435.1" y="860.7" font-size="21.4" fill="#2d47b3" stroke="#2d47b3" stroke-width="0.1" textLength="37.9" lengthAdjust="spacingAndGlyphs" font-weight="bold">1,13</text>
<text x="434.1" y="908.9" font-size="21.2" fill="#1a1a1a" stroke="#1a1a1a" stroke-width="0.18" textLength="80.9" lengthAdjust="spacingAndGlyphs">123 (DP)</text>
<text x="435.1" y="935.3" font-size="21.4" fill="#2d47b3" stroke="#2d47b3" stroke-width="0.1" textLength="37.5" lengthAdjust="spacingAndGlyphs" font-weight="bold">1,14</text>
<text x="717.6" y="834.3" font-size="21.2" fill="#1a1a1a" stroke="#1a1a1a" stroke-width="0.18" textLength="73.7" lengthAdjust="spacingAndGlyphs">121 (PT)</text>
<text x="747" y="860.7" font-size="21.4" fill="#2d47b3" stroke="#2d47b3" stroke-width="0.1" textLength="44.1" lengthAdjust="spacingAndGlyphs" font-weight="bold">1,03</text>
<text x="714.1" y="908.9" font-size="21.2" fill="#1a1a1a" stroke="#1a1a1a" stroke-width="0.18" textLength="77.2" lengthAdjust="spacingAndGlyphs">113 (DP)</text>
<text x="747" y="935.3" font-size="21.4" fill="#2d47b3" stroke="#2d47b3" stroke-width="0.1" textLength="44.6" lengthAdjust="spacingAndGlyphs" font-weight="bold">1,05</text>
<text x="433.7" y="1119.6" font-size="21.4" fill="#2d47b3" stroke="#2d47b3" stroke-width="0.1" textLength="38.9" lengthAdjust="spacingAndGlyphs" font-weight="bold">1,14</text>
<text x="504.9" y="1119.6" font-size="21.2" fill="#1a1a1a" stroke="#1a1a1a" stroke-width="0.18" textLength="217.1" lengthAdjust="spacingAndGlyphs">Indice caviglia braccio</text>
<text x="745.8" y="1119.6" font-size="21.4" fill="#2d47b3" stroke="#2d47b3" stroke-width="0.1" textLength="45.7" lengthAdjust="spacingAndGlyphs" font-weight="bold">1,05</text>
</svg>
</body>
</html>
